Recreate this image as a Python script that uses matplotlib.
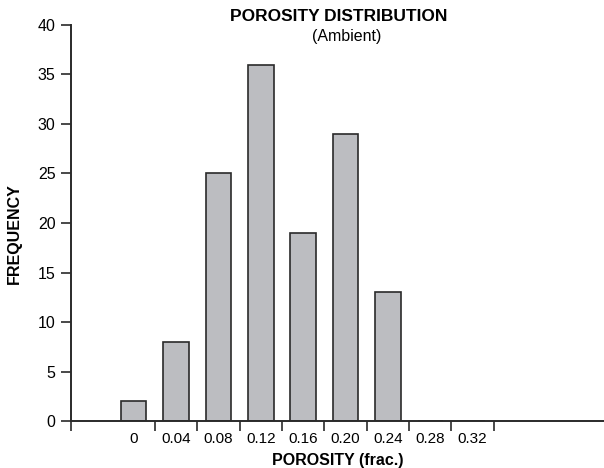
import matplotlib
matplotlib.use("Agg")
import matplotlib.pyplot as plt
import numpy as np

# porosity bins and counts
porosity_labels = ["0", "0.04", "0.08", "0.12", "0.16", "0.20", "0.24", "0.28", "0.32"]
frequency = [2, 8, 25, 36, 19, 29, 13, 0, 0]
y_ticks = [0, 5, 10, 15, 20, 25, 30, 35, 40]

plt.rcParams['font.family'] = ['Liberation Sans', 'DejaVu Sans']

fig = plt.figure(figsize=(6.04, 4.68), dpi=100)
ax = fig.add_axes([0.1175, 0.1004, 0.8825, 0.8462])

x = np.arange(len(porosity_labels))
ax.bar(x, frequency, width=0.6, color="#bcbdc1", edgecolor="#2a2a2a", linewidth=1.2, zorder=2)

ax.set_xlim(-1.48, 11.1)
ax.set_ylim(0, 40)

# tick marks sit between bins, labels sit under bins
ax.set_xticks(list(np.arange(-0.5, len(porosity_labels), 1.0)[1:]) + [-1.48])
ax.set_xticklabels([])
ax.set_xticks(x, minor=True)
ax.set_xticklabels(porosity_labels, minor=True, fontsize=11)
ax.tick_params(axis="x", which="major", direction="out", length=7, width=1.2, color="#2a2a2a")
ax.tick_params(axis="x", which="minor", length=0, pad=8)

ax.set_yticks(y_ticks)
ax.set_yticklabels([str(v) for v in y_ticks], fontsize=11.5)
ax.tick_params(axis="y", direction="out", length=7, width=1.2, color="#2a2a2a", pad=4)

for side in ["top", "right"]:
    ax.spines[side].set_visible(False)
for side in ["left", "bottom"]:
    ax.spines[side].set_linewidth(1.4)
    ax.spines[side].set_color("#2a2a2a")

ax.set_xlabel("POROSITY (frac.)", fontsize=11.5, fontweight="bold", labelpad=5)
fig.text(0.024, 0.50, "FREQUENCY", fontsize=11.5, fontweight="bold", rotation=90,
         ha="center", va="center")

fig.text(0.561, 0.965, "POROSITY DISTRIBUTION", fontsize=12.5, fontweight="bold",
         ha="center", va="center")
fig.text(0.574, 0.922, "(Ambient)", fontsize=11.5, ha="center", va="center")

fig.savefig("out.png", dpi=100)
